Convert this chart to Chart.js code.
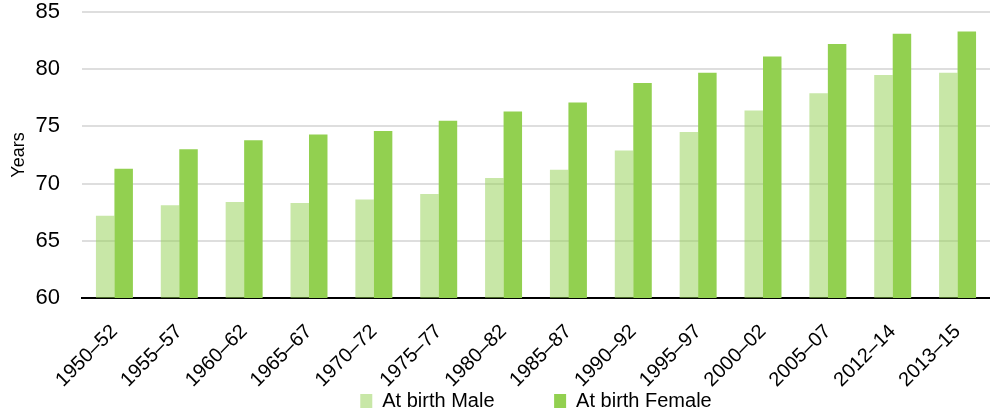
<!DOCTYPE html>
<html>
<head>
<meta charset="utf-8">
<script src="https://cdn.jsdelivr.net/npm/chart.js@4/dist/chart.umd.min.js"></script>
<style>
html,body{margin:0;padding:0;background:#fff;}
#wrap{width:990px;height:412px;}
</style>
</head>
<body>
<div id="wrap"><canvas id="c"></canvas></div>
<script>
const categories = ["1950–52","1955–57","1960–62","1965–67","1970–72","1975–77","1980–82","1985–87","1990–92","1995–97","2000–02","2005–07","2012–14","2013–15"];
const maleValues = [67.2,68.1,68.4,68.3,68.6,69.1,70.5,71.2,72.9,74.5,76.4,77.9,79.5,79.7];
const femaleValues = [71.3,73.0,73.8,74.3,74.6,75.5,76.3,77.1,78.8,79.7,81.1,82.2,83.1,83.3];
const seriesNames = ["At birth Male","At birth Female"];
const yTitle = "Years";

const FONT = "'Liberation Sans', Arial, sans-serif";

const legendShift = {
  id: 'legendShift',
  afterLayout(chart) {
    const lg = chart.legend;
    if (!lg) return;
    lg.left = chart.chartArea.left;
    lg.top -= 3;
    lg.bottom -= 3;
  }
};

new Chart(document.getElementById('c'), {
  type: 'bar',
  data: {
    labels: categories,
    datasets: [
      {label: seriesNames[0], data: maleValues, backgroundColor: 'rgba(146,208,80,0.5)'},
      {label: seriesNames[1], data: femaleValues, backgroundColor: 'rgb(146,208,80)'}
    ]
  },
  plugins: [legendShift],
  options: {
    responsive: true,
    maintainAspectRatio: false,
    animation: false,
    datasets: {bar: {barPercentage: 1, categoryPercentage: 0.57}},
    layout: {padding: {top: 0, right: 0, left: 8, bottom: -12}},
    plugins: {
      legend: {
        position: 'bottom',
        labels: {
          boxWidth: 12, boxHeight: 14, padding: 4, font: {family: FONT, size: 20}, color: '#000',
          generateLabels: chart => {
            const items = Chart.defaults.plugins.legend.labels.generateLabels(chart);
            items.forEach((it, i) => { if (i === 0) it.text = it.text + '\u00A0'.repeat(10); });
            return items;
          }
        }
      },
      tooltip: {enabled: false}
    },
    scales: {
      x: {
        grid: {display: false, drawTicks: false},
        border: {color: '#000', width: 2},
        ticks: {maxRotation: 45, minRotation: 45, color: '#000', font: {family: FONT, size: 20}, padding: 22},
        afterFit: s => { s.paddingLeft = 0; s.paddingRight = 0; s.height = 92; }
      },
      y: {
        min: 60, max: 85,
        z: 1,
        border: {display: false},
        grid: {
          drawTicks: false,
          color: ctx => ctx.tick && ctx.tick.value === 60 ? 'rgba(0,0,0,0)' : (ctx.tick && ctx.tick.value % 5 === 0 ? 'rgba(0,0,0,0.13)' : 'rgba(0,0,0,0.07)'),
          lineWidth: 2
        },
        ticks: {
          stepSize: 2.5,
          color: '#000',
          padding: 22,
          font: {family: FONT, size: 22},
          callback: v => (v % 5 === 0 ? v : '')
        },
        title: {display: true, text: yTitle, color: '#000', font: {family: FONT, size: 18}, padding: 0},
        afterFit: s => { s.paddingTop = 12; s.paddingBottom = 0; s.width = 74; }
      }
    }
  }
});
</script>
</body>
</html>
